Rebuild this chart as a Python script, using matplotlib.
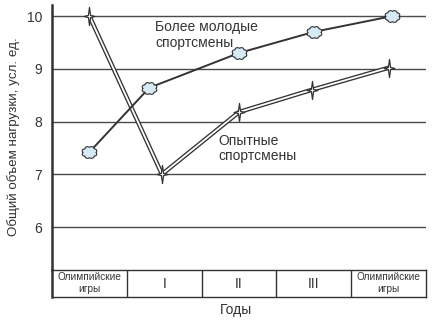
import matplotlib
matplotlib.use("Agg")
import matplotlib.pyplot as plt
import numpy as np
from matplotlib.path import Path

plt.rcParams['font.family'] = ['Liberation Sans', 'DejaVu Sans']

# data
periods = ["Олимпийские\nигры", "I", "II", "III", "Олимпийские\nигры"]
young_x = [0.5, 1.3, 2.5, 3.5, 4.55]
young_y = [7.42, 8.64, 9.3, 9.7, 10.0]
exp_x = [0.5, 1.47, 2.5, 3.47, 4.5]
exp_y = [10.0, 7.0, 8.18, 8.6, 9.02]
yticks = [6, 7, 8, 9, 10]

ink = '#333333'

# marker shapes
star4 = Path([(0, 1), (0.12, 0.12), (0.6, 0), (0.12, -0.12), (0, -1),
              (-0.12, -0.12), (-0.6, 0), (-0.12, 0.12), (0, 1)], closed=True)
th = np.linspace(0, 2 * np.pi, 97)
r = 0.84 + 0.16 * np.abs(np.sin(4 * th))
cloud = Path(np.column_stack([r * np.cos(th), 0.8 * r * np.sin(th)]), closed=True)

fig = plt.figure(figsize=(4.47, 3.24), dpi=100)
ax = fig.add_axes([52 / 447, 54 / 324, 374 / 447, 265 / 324])
tab = fig.add_axes([52 / 447, 27 / 324, 374 / 447, 27 / 324])

ax.set_xlim(0, 5)
ax.set_ylim(5.185, 10.21)
ax.set_yticks(yticks)
ax.set_xticks([])
ax.tick_params(axis='y', length=0, pad=7, labelsize=10, labelcolor=ink)
ax.grid(axis='y', color='#4a4a4a', linewidth=1.0)
for s in ['top', 'right', 'bottom']:
    ax.spines[s].set_visible(False)
ax.spines['left'].set_linewidth(1.8)
ax.spines['left'].set_color(ink)

# experienced athletes: double line with 4-point stars
ax.plot(exp_x, exp_y, color=ink, lw=3.2, solid_capstyle='butt', zorder=3)
ax.plot(exp_x, exp_y, color='white', lw=1.3, solid_capstyle='butt', zorder=3)
ax.plot(exp_x, exp_y, ls='none', marker=star4, ms=13, mfc='white',
        mec=ink, mew=0.9, zorder=5)

# younger athletes
ax.plot(young_x, young_y, color=ink, lw=1.4, zorder=4)
ax.plot(young_x, young_y, ls='none', marker=cloud, ms=10.5, mfc='#d6eaf3',
        mec=ink, mew=0.8, zorder=5)

ax.text(1.38, 9.64, "Более молодые\nспортсмены", fontsize=10, color=ink,
        ha='left', va='center', linespacing=1.15)
ax.text(2.22, 7.49, "Опытные\nспортсмены", fontsize=10, color=ink,
        ha='left', va='center', linespacing=1.15)

# period table under the chart
tab.set_xlim(0, 5)
tab.set_ylim(0, 1)
tab.set_xticks([])
tab.set_yticks([])
for s in tab.spines.values():
    s.set_color(ink)
    s.set_linewidth(1.0)
tab.spines['left'].set_linewidth(1.8)
for i in range(1, len(periods)):
    tab.axvline(i, color=ink, lw=1.0)
for i, lab in enumerate(periods):
    fs = 7.2 if '\n' in lab else 10
    tab.text(i + 0.5, 0.5, lab, ha='center', va='center', fontsize=fs,
             color=ink, linespacing=1.25)

fig.text(236 / 447, 1 - 310 / 324, "Годы", ha='center', va='center',
         fontsize=10, color=ink)
fig.text(14 / 447, 1 - 137 / 324, "Общий объем нагрузки, усл. ед.",
         rotation=90, ha='center', va='center', fontsize=9.6, color=ink)

fig.savefig("out.png", dpi=100)
